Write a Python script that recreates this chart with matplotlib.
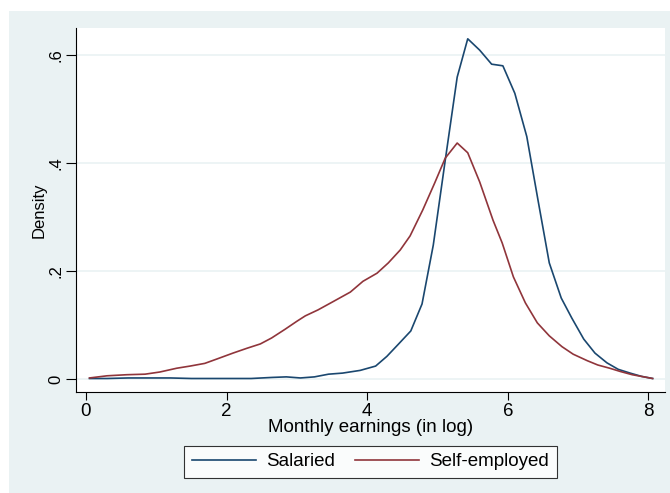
import matplotlib.pyplot as plt
from matplotlib.patches import Rectangle

plt.rcParams['font.family'] = ['Liberation Sans', 'DejaVu Sans']

# Kernel density points
sal_x = [0.05, 0.3, 0.6, 0.85, 1.2, 1.5, 1.8, 2.1, 2.35, 2.65, 2.85, 3.05, 3.25,
         3.45, 3.65, 3.9, 4.12, 4.28, 4.44, 4.62, 4.78, 4.94, 5.11, 5.28, 5.43,
         5.60, 5.77, 5.93, 6.10, 6.27, 6.43, 6.59, 6.76, 6.91, 7.08, 7.24, 7.41,
         7.57, 7.74, 7.90, 8.06]
sal_y = [0.001, 0.001, 0.002, 0.002, 0.002, 0.001, 0.001, 0.001, 0.001, 0.003,
         0.004, 0.002, 0.004, 0.009, 0.011, 0.016, 0.024, 0.042, 0.064, 0.089,
         0.139, 0.248, 0.405, 0.559, 0.630, 0.609, 0.583, 0.580, 0.529, 0.449,
         0.331, 0.215, 0.150, 0.113, 0.074, 0.048, 0.030, 0.018, 0.011, 0.005,
         0.001]

self_x = [0.05, 0.3, 0.58, 0.84, 1.05, 1.29, 1.48, 1.69, 1.86, 2.09, 2.29, 2.48,
          2.64, 2.83, 3.00, 3.12, 3.30, 3.51, 3.76, 3.94, 4.14, 4.30, 4.47, 4.61,
          4.79, 4.96, 5.11, 5.28, 5.43, 5.60, 5.79, 5.92, 6.08, 6.25, 6.42, 6.59,
          6.77, 6.93, 7.13, 7.28, 7.45, 7.60, 7.77, 8.06]
self_y = [0.002, 0.006, 0.008, 0.009, 0.013, 0.020, 0.024, 0.029, 0.037, 0.048,
          0.057, 0.065, 0.076, 0.092, 0.107, 0.117, 0.128, 0.143, 0.161, 0.181,
          0.196, 0.215, 0.239, 0.265, 0.313, 0.363, 0.409, 0.437, 0.419, 0.365,
          0.294, 0.252, 0.189, 0.141, 0.104, 0.080, 0.060, 0.046, 0.034, 0.026,
          0.020, 0.014, 0.008, 0.001]

x_ticks = [0, 2, 4, 6, 8]
y_ticks = [0, 0.2, 0.4, 0.6]
y_labels = ['0', '.2', '.4', '.6']

bg = '#EAF2F3'
fig = plt.figure(figsize=(6.7, 4.93), dpi=100, facecolor='white')
fig.patches.append(Rectangle((9 / 670, 0), 661 / 670, 482 / 493,
                             transform=fig.transFigure, facecolor=bg,
                             edgecolor='none', zorder=-10))

ax = fig.add_axes([76 / 670, 101 / 493, 589 / 670, 364 / 493])
ax.set_facecolor('white')
ax.plot(sal_x, sal_y, color='#1A476F', lw=1.2, label='Salaried')
ax.plot(self_x, self_y, color='#90353B', lw=1.2, label='Self-employed')

ax.set_xlim(-0.142, 8.236)
ax.set_ylim(-0.024, 0.650)
ax.set_xticks(x_ticks)
ax.set_yticks(y_ticks)
ax.set_yticklabels(y_labels, rotation=90, va='center', fontsize=12)
ax.set_xticklabels([str(t) for t in x_ticks], fontsize=13.5)
ax.grid(axis='y', color=bg, lw=1.2)
ax.set_axisbelow(True)
for s in ['top', 'right']:
    ax.spines[s].set_visible(False)
ax.tick_params(axis='y', direction='out', length=7, width=0.8, pad=2)
ax.tick_params(axis='x', direction='out', length=6, width=0.8, pad=2)
ax.set_xlabel('Monthly earnings (in log)', fontsize=13.5, labelpad=-1)
ax.set_ylabel('Density', fontsize=12, labelpad=1)

leg = ax.legend(loc='center', bbox_to_anchor=(0.5, -0.1915), ncol=2,
                fontsize=13.5, frameon=True, fancybox=False, edgecolor='black',
                handlelength=3.4, handletextpad=0.55, columnspacing=1.1,
                borderpad=0.4)
leg.get_frame().set_linewidth(0.8)

fig.savefig('out.png', dpi=100, facecolor='white')
